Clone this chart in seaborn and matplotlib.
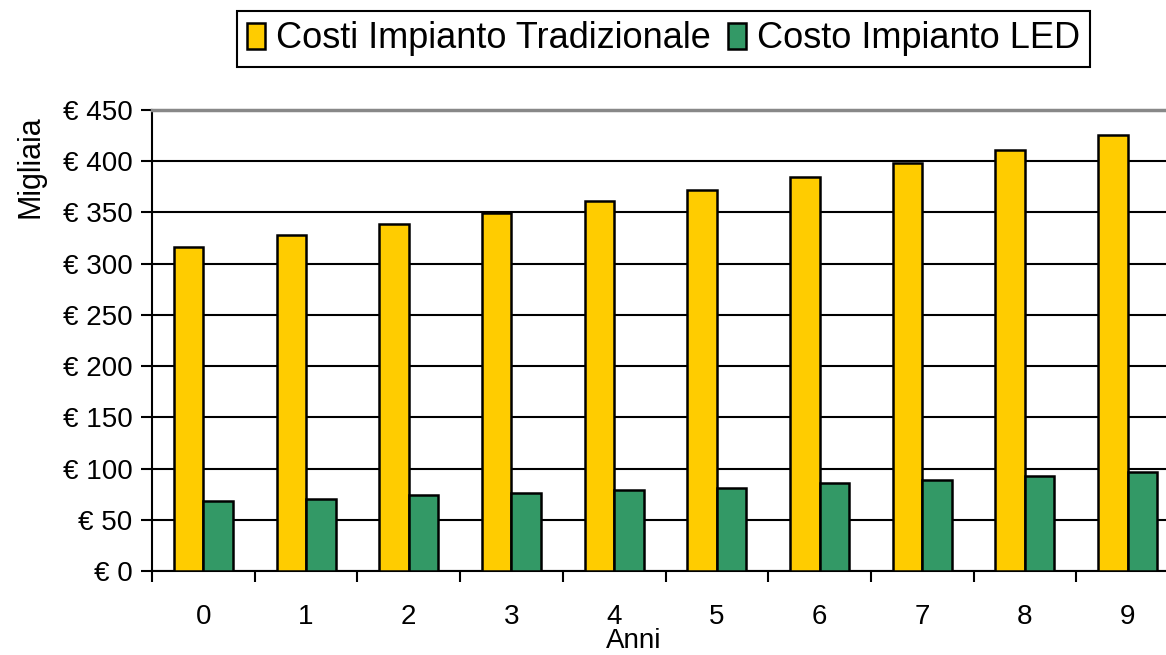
import matplotlib
matplotlib.use("Agg")
import matplotlib.pyplot as plt
import seaborn as sns
import pandas as pd
from matplotlib.ticker import FuncFormatter, FixedLocator

# Costs in thousands of euro over the years
anni = ["0", "1", "2", "3", "4", "5", "6", "7", "8", "9"]
costi_tradizionale = [316.6, 327.7, 338.8, 349.5, 360.9, 372.0, 385.0, 398.0, 411.0, 426.0]
costo_led = [68.2, 70.5, 74.0, 76.0, 79.4, 81.3, 85.5, 88.7, 92.7, 96.3]
serie = ["Costi Impianto Tradizionale", "Costo Impianto LED"]
colori = ["#FFCC00", "#339966"]

df = pd.DataFrame({
    "Anni": anni * 2,
    "Valore": costi_tradizionale + costo_led,
    "Serie": [serie[0]] * len(anni) + [serie[1]] * len(anni),
})

sns.set_theme(style="white")
plt.rcParams["font.family"] = ["Liberation Sans", "DejaVu Sans"]
plt.rcParams["text.color"] = "black"
plt.rcParams["axes.labelcolor"] = "black"
plt.rcParams["xtick.color"] = "black"
plt.rcParams["ytick.color"] = "black"

fig = plt.figure(figsize=(11.66, 6.55), dpi=100)
ax = fig.add_axes([152 / 1166, 84 / 655, 1027 / 1166, 461 / 655])

sns.barplot(data=df, x="Anni", y="Valore", hue="Serie", order=anni,
            hue_order=serie, palette=colori, width=0.575, gap=0,
            edgecolor="black", linewidth=1.8, saturation=1, ax=ax, zorder=3)

ax.set_ylim(0, 450)
ax.set_xlim(-0.5, len(anni) - 0.5)
ax.set_yticks(range(0, 451, 50))
ax.yaxis.set_major_formatter(FuncFormatter(lambda v, p: f"€ {int(v)}"))
ax.grid(axis="y", color="black", linewidth=1.5, zorder=0)
ax.set_axisbelow(True)

ax.spines["right"].set_visible(False)
ax.spines["top"].set_color("#888888")
ax.spines["top"].set_linewidth(2.5)
for s in ["left", "bottom"]:
    ax.spines[s].set_color("black")
    ax.spines[s].set_linewidth(1.5)

ax.tick_params(axis="y", which="major", direction="out", length=8, width=1.5,
               color="black", labelcolor="black", labelsize=20, pad=6, left=True)
ax.tick_params(axis="x", which="major", length=0, labelsize=20, labelcolor="black", pad=24)
ax.xaxis.set_minor_locator(FixedLocator([i + 0.5 for i in range(-1, len(anni))]))
ax.tick_params(axis="x", which="minor", direction="out", length=8, width=1.5,
               color="black", bottom=True)

ax.set_xlabel("Anni", fontsize=20, color="black")
ax.xaxis.set_label_coords(0.469, -0.124)
ax.set_ylabel("Migliaia", fontsize=22, color="black")
ax.yaxis.set_label_coords(-0.104, 0.877)

handles, labels = ax.get_legend_handles_labels()
ax.get_legend().remove()
leg = fig.legend(handles, labels, loc="center", bbox_to_anchor=(663.5 / 1166, 1 - 39 / 655),
                 ncol=2, fontsize=26, frameon=True, fancybox=False, edgecolor="black",
                 framealpha=1, handlelength=0.5, handleheight=0.75, handletextpad=0.3,
                 columnspacing=0.5, borderpad=0.28, borderaxespad=0)
leg.get_frame().set_linewidth(1.5)
for t in leg.get_texts():
    t.set_color("black")

fig.savefig("out.png", dpi=100, facecolor="white")
